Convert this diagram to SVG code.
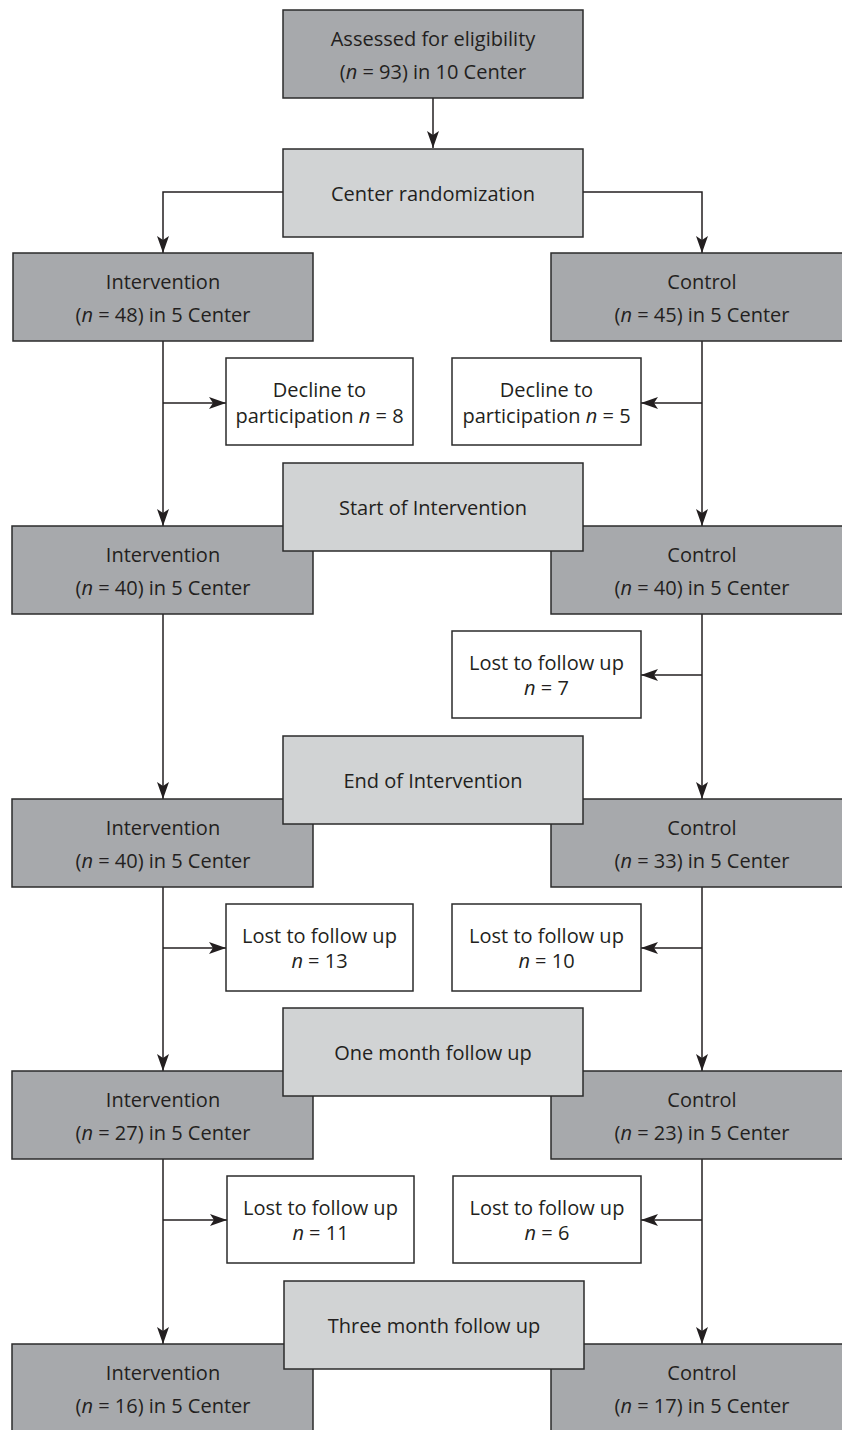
<svg xmlns="http://www.w3.org/2000/svg" width="842" height="1430" viewBox="0 0 842 1430">
<style>
.dk{fill:#a7a9ac;stroke:#2b2b2b;stroke-width:1.5}
.lt{fill:#d1d3d4;stroke:#2b2b2b;stroke-width:1.5}
.wh{fill:#ffffff;stroke:#2b2b2b;stroke-width:1.5}
text{font-family:"Open Sans","Noto Sans","Liberation Sans",sans-serif;font-size:20px;fill:#231f20;text-anchor:middle}
.i{font-style:italic}
.ln{fill:none;stroke:#231f20;stroke-width:1.5}
</style>
<defs>
<marker id="arr" markerUnits="userSpaceOnUse" markerWidth="17" markerHeight="12" viewBox="0 0 17 12" refX="17" refY="6" orient="auto">
<path d="M0,0 L17,6 L0,12 L4,6 z" fill="#231f20"/>
</marker>
</defs>
<g id="connectors">
<path class="ln" d="M433,98 V148" marker-end="url(#arr)"/>
<path class="ln" d="M283,192 H163 V253" marker-end="url(#arr)"/>
<path class="ln" d="M583,192 H702 V253" marker-end="url(#arr)"/>
<path class="ln" d="M163,341 V526" marker-end="url(#arr)"/>
<path class="ln" d="M163,403 H226" marker-end="url(#arr)"/>
<path class="ln" d="M702,341 V526" marker-end="url(#arr)"/>
<path class="ln" d="M702,403 H641" marker-end="url(#arr)"/>
<path class="ln" d="M163,614 V799" marker-end="url(#arr)"/>
<path class="ln" d="M702,614 V799" marker-end="url(#arr)"/>
<path class="ln" d="M702,675 H641" marker-end="url(#arr)"/>
<path class="ln" d="M163,886 V1071" marker-end="url(#arr)"/>
<path class="ln" d="M163,948 H226" marker-end="url(#arr)"/>
<path class="ln" d="M702,886 V1071" marker-end="url(#arr)"/>
<path class="ln" d="M702,948 H641" marker-end="url(#arr)"/>
<path class="ln" d="M163,1159 V1344" marker-end="url(#arr)"/>
<path class="ln" d="M163,1220 H227" marker-end="url(#arr)"/>
<path class="ln" d="M702,1159 V1344" marker-end="url(#arr)"/>
<path class="ln" d="M702,1220 H641" marker-end="url(#arr)"/>
</g>
<g id="assessed"><rect class="dk" x="283" y="10" width="300" height="88"/><text x="433" y="46">Assessed for eligibility</text><text x="433" y="79">(<tspan class="i">n</tspan> = 93) in 10 Center</text></g>
<g id="randomization"><rect class="lt" x="283" y="149" width="300" height="88"/><text x="433" y="201">Center randomization</text></g>
<g id="int1"><rect class="dk" x="13" y="253" width="300" height="88"/><text x="163" y="289">Intervention</text><text x="163" y="322">(<tspan class="i">n</tspan> = 48) in 5 Center</text></g>
<g id="ctrl1"><rect class="dk" x="551" y="253" width="300" height="88"/><text x="702" y="289">Control</text><text x="702" y="322">(<tspan class="i">n</tspan> = 45) in 5 Center</text></g>
<g id="decline-int"><rect class="wh" x="226" y="358" width="187" height="87"/><text x="319.5" y="397">Decline to</text><text x="319.5" y="423">participation <tspan class="i">n</tspan> = 8</text></g>
<g id="decline-ctrl"><rect class="wh" x="452" y="358" width="189" height="87"/><text x="546.5" y="397">Decline to</text><text x="546.5" y="423">participation <tspan class="i">n</tspan> = 5</text></g>
<g id="int2"><rect class="dk" x="12" y="526" width="301" height="88"/><text x="163" y="562">Intervention</text><text x="163" y="595">(<tspan class="i">n</tspan> = 40) in 5 Center</text></g>
<g id="ctrl2"><rect class="dk" x="551" y="526" width="300" height="88"/><text x="702" y="562">Control</text><text x="702" y="595">(<tspan class="i">n</tspan> = 40) in 5 Center</text></g>
<g id="start"><rect class="lt" x="283" y="463" width="300" height="88"/><text x="433" y="515">Start of Intervention</text></g>
<g id="lost-ctrl1"><rect class="wh" x="452" y="631" width="189" height="87"/><text x="546.5" y="670">Lost to follow up</text><text x="546.5" y="695"><tspan class="i">n</tspan> = 7</text></g>
<g id="int3"><rect class="dk" x="12" y="799" width="301" height="88"/><text x="163" y="835">Intervention</text><text x="163" y="868">(<tspan class="i">n</tspan> = 40) in 5 Center</text></g>
<g id="ctrl3"><rect class="dk" x="551" y="799" width="300" height="88"/><text x="702" y="835">Control</text><text x="702" y="868">(<tspan class="i">n</tspan> = 33) in 5 Center</text></g>
<g id="end"><rect class="lt" x="283" y="736" width="300" height="88"/><text x="433" y="788">End of Intervention</text></g>
<g id="lost-int2"><rect class="wh" x="226" y="904" width="187" height="87"/><text x="319.5" y="943">Lost to follow up</text><text x="319.5" y="968"><tspan class="i">n</tspan> = 13</text></g>
<g id="lost-ctrl2"><rect class="wh" x="452" y="904" width="189" height="87"/><text x="546.5" y="943">Lost to follow up</text><text x="546.5" y="968"><tspan class="i">n</tspan> = 10</text></g>
<g id="int4"><rect class="dk" x="12" y="1071" width="301" height="88"/><text x="163" y="1107">Intervention</text><text x="163" y="1140">(<tspan class="i">n</tspan> = 27) in 5 Center</text></g>
<g id="ctrl4"><rect class="dk" x="551" y="1071" width="300" height="88"/><text x="702" y="1107">Control</text><text x="702" y="1140">(<tspan class="i">n</tspan> = 23) in 5 Center</text></g>
<g id="onemonth"><rect class="lt" x="283" y="1008" width="300" height="88"/><text x="433" y="1060">One month follow up</text></g>
<g id="lost-int3"><rect class="wh" x="227" y="1176" width="187" height="87"/><text x="320.5" y="1215">Lost to follow up</text><text x="320.5" y="1240"><tspan class="i">n</tspan> = 11</text></g>
<g id="lost-ctrl3"><rect class="wh" x="453" y="1176" width="188" height="87"/><text x="547" y="1215">Lost to follow up</text><text x="547" y="1240"><tspan class="i">n</tspan> = 6</text></g>
<g id="int5"><rect class="dk" x="12" y="1344" width="301" height="100"/><text x="163" y="1380">Intervention</text><text x="163" y="1413">(<tspan class="i">n</tspan> = 16) in 5 Center</text></g>
<g id="ctrl5"><rect class="dk" x="551" y="1344" width="300" height="100"/><text x="702" y="1380">Control</text><text x="702" y="1413">(<tspan class="i">n</tspan> = 17) in 5 Center</text></g>
<g id="threemonth"><rect class="lt" x="284" y="1281" width="300" height="88"/><text x="434" y="1333">Three month follow up</text></g>
</svg>
